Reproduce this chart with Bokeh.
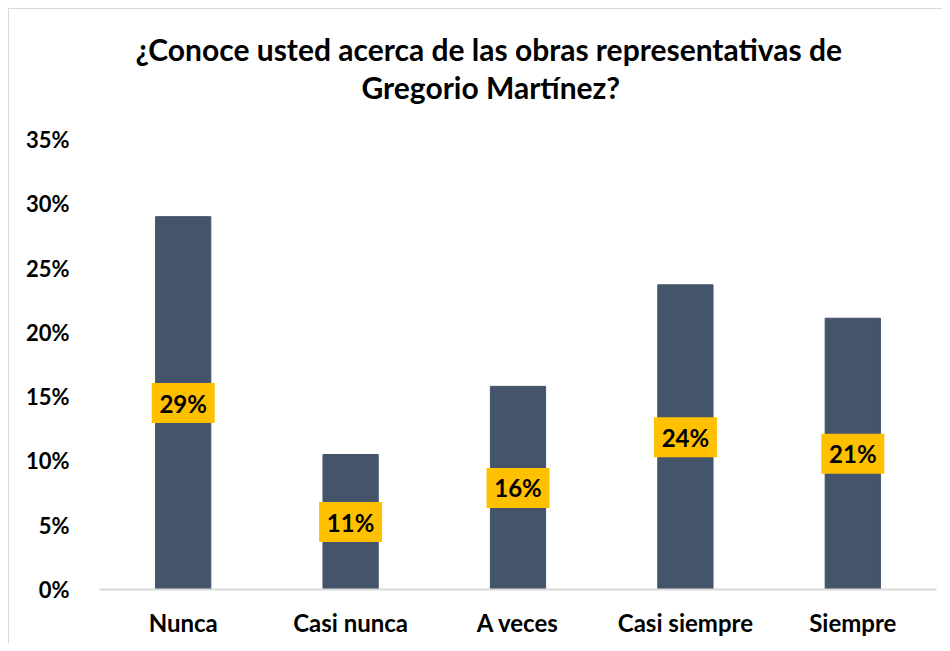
from bokeh.plotting import figure
from bokeh.models import ColumnDataSource, Title, FixedTicker, NumeralTickFormatter, Range1d
from bokeh.core.properties import value
from bokeh.embed import file_html
from bokeh.resources import INLINE

categories = ["Nunca", "Casi nunca", "A veces", "Casi siempre", "Siempre"]
values = [0.29, 0.105, 0.158, 0.237, 0.211]
labels = ["29%", "11%", "16%", "24%", "21%"]
y_ticks = [0, 0.05, 0.10, 0.15, 0.20, 0.25, 0.30, 0.35]

FONT = "Lato"

src = ColumnDataSource(dict(
    cat=categories,
    val=values,
    mid=[v / 2 for v in values],
    lab=labels,
))

p = figure(
    x_range=categories,
    y_range=Range1d(0, 0.35),
    width=934, height=635,
    output_backend="svg", toolbar_location=None,
    min_border_left=90, min_border_right=7, min_border_bottom=55, min_border_top=10,
)
p.styles = {"border-left": "1px solid #d9d9d9", "border-top": "1px solid #d9d9d9",
            "margin-left": "8px", "margin-top": "8px"}

p.vbar(x="cat", top="val", width=0.33, source=src, fill_color="#44546A", line_color="#44546A")
p.rect(x="cat", y="mid", width=63, height=40, width_units="screen", height_units="screen",
       source=src, fill_color="#FFC000", line_color=None)
p.text(x="cat", y="mid", text="lab", source=src, text_align="center", text_baseline="middle",
       text_font=value(FONT), text_font_style="bold", text_font_size="24px", text_color="black")

spacer = Title(text=" ", align="center", text_font=FONT, text_font_size="27px", standoff=0)
t2 = Title(text="Gregorio Martínez?", align="left", offset=262, text_font=FONT,
           text_font_size="30px", text_font_style="bold", text_color="black", standoff=0)
t1 = Title(text="¿Conoce usted acerca de las obras representativas de", align="left", offset=36,
           text_font=FONT, text_font_size="30px", text_font_style="bold", text_color="black",
           standoff=0)
top_spacer = Title(text=" ", align="center", text_font=FONT, text_font_size="14px", standoff=0)
p.title = None
p.add_layout(spacer, "above")
p.add_layout(t2, "above")
p.add_layout(t1, "above")
p.add_layout(top_spacer, "above")

p.xgrid.grid_line_color = None
p.ygrid.grid_line_color = None
p.outline_line_color = None

p.yaxis.ticker = FixedTicker(ticks=y_ticks)
p.yaxis.formatter = NumeralTickFormatter(format="0%")
p.yaxis.axis_line_color = None
p.yaxis.major_tick_line_color = None
p.yaxis.minor_tick_line_color = None
p.yaxis.major_label_standoff = 24
p.yaxis.major_label_text_font = FONT
p.yaxis.major_label_text_font_style = "bold"
p.yaxis.major_label_text_font_size = "22px"
p.yaxis.major_label_text_color = "black"

p.xaxis.axis_line_color = "#d9d9d9"
p.xaxis.axis_line_width = 2
p.xaxis.major_tick_line_color = None
p.xaxis.minor_tick_line_color = None
p.xaxis.major_label_standoff = 12
p.xaxis.major_label_text_font = FONT
p.xaxis.major_label_text_font_style = "bold"
p.xaxis.major_label_text_font_size = "24px"
p.xaxis.major_label_text_color = "black"

open("out.html", "w").write(file_html(p, INLINE))
